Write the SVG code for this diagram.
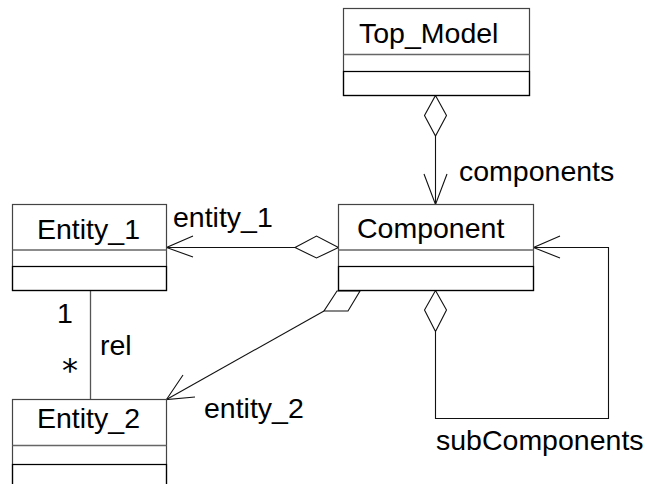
<svg xmlns="http://www.w3.org/2000/svg" width="647" height="484" viewBox="0 0 647 484">
  <style>
    .frame { fill: #ffffff; stroke: #444444; stroke-width: 1.2; }
    .sep { stroke: #666666; stroke-width: 1.6; fill: none; }
    .ops { fill: none; stroke: #000000; stroke-width: 1.25; }
    .name { font-family: "Liberation Sans", Arial, sans-serif; font-size: 28.5px; fill: #000000; }
    .label { font-family: "Liberation Sans", Arial, sans-serif; font-size: 28.5px; fill: #000000; }
    .edge { fill: none; stroke: #111111; stroke-width: 1.1; }
    .diamond { fill: #ffffff; stroke: #111111; stroke-width: 1.1; }
    .link { fill: none; stroke: #555555; stroke-width: 1.3; }
  </style>
  <rect width="647" height="484" fill="#ffffff"/>

  <!-- connectors -->
  <g id="connectors">
    <!-- Top_Model aggregates Component -->
    <line class="edge" x1="435.5" y1="136" x2="435.5" y2="204.5"/>
    <polyline class="edge" points="424,174 435.5,204.5 447,174"/>
    <polygon class="diamond" points="435.5,95.5 446.5,115.5 435.5,136 424.5,115.5"/>
    <text class="label" x="459" y="181">components</text>

    <!-- Component aggregates Entity_1 -->
    <line class="edge" x1="295" y1="247.5" x2="166.5" y2="247.5"/>
    <polyline class="edge" points="193,236 166.5,247.5 193,257"/>
    <polygon class="diamond" points="338.5,247.5 316.5,236 295,247.5 316.5,258"/>
    <text class="label" x="173" y="227">entity_1</text>

    <!-- Component aggregates Entity_2 -->
    <line class="edge" x1="324" y1="311" x2="166.5" y2="399.5"/>
    <polyline class="edge" points="183,375 166.5,399.5 195,397"/>
    <polygon class="diamond" points="337,291 360,291 348,311 324,311"/>
    <text class="label" x="204" y="418">entity_2</text>

    <!-- Component self aggregation -->
    <polyline class="edge" points="435.5,331.5 435.5,418.5 608.5,418.5 608.5,247.5 533.5,247.5"/>
    <polyline class="edge" points="560,236 533.5,247.5 560,258"/>
    <polygon class="diamond" points="435.5,290.5 446.5,310 435.5,331.5 424.5,310"/>
    <text class="label" x="436" y="450">subComponents</text>

    <!-- Entity_1 to Entity_2 association -->
    <line class="link" x1="90.5" y1="290.5" x2="90.5" y2="399.5"/>
    <text class="label" x="100" y="355">rel</text>
    <text class="label" x="57" y="323">1</text>
    <text x="62" y="381" style="font-family: 'DejaVu Sans', sans-serif; font-size: 32px; fill: #000000;">*</text>
  </g>

  <!-- classes -->
  <g id="Top_Model">
    <rect class="frame" x="343.5" y="8.5" width="186" height="87"/>
    <line class="sep" x1="343.5" y1="54.5" x2="529.5" y2="54.5"/>
    <rect class="ops" x="343.5" y="71.5" width="186" height="24"/>
    <text class="name" x="359" y="43">Top_Model</text>
  </g>

  <g id="Component">
    <rect class="frame" x="338.5" y="204.5" width="195" height="86"/>
    <line class="sep" x1="338.5" y1="250" x2="533.5" y2="250"/>
    <rect class="ops" x="338.5" y="266.5" width="195" height="24"/>
    <text class="name" x="357" y="238">Component</text>
  </g>

  <g id="Entity_1">
    <rect class="frame" x="12.5" y="204.5" width="154" height="86"/>
    <line class="sep" x1="12.5" y1="250" x2="166.5" y2="250"/>
    <rect class="ops" x="12.5" y="266.5" width="154" height="24"/>
    <text class="name" x="37" y="239">Entity_1</text>
  </g>

  <g id="Entity_2">
    <rect class="frame" x="12.5" y="399.5" width="154" height="100"/>
    <line class="sep" x1="12.5" y1="445.5" x2="166.5" y2="445.5"/>
    <rect class="ops" x="12.5" y="464.5" width="154" height="40"/>
    <text class="name" x="37" y="428">Entity_2</text>
  </g>
</svg>
